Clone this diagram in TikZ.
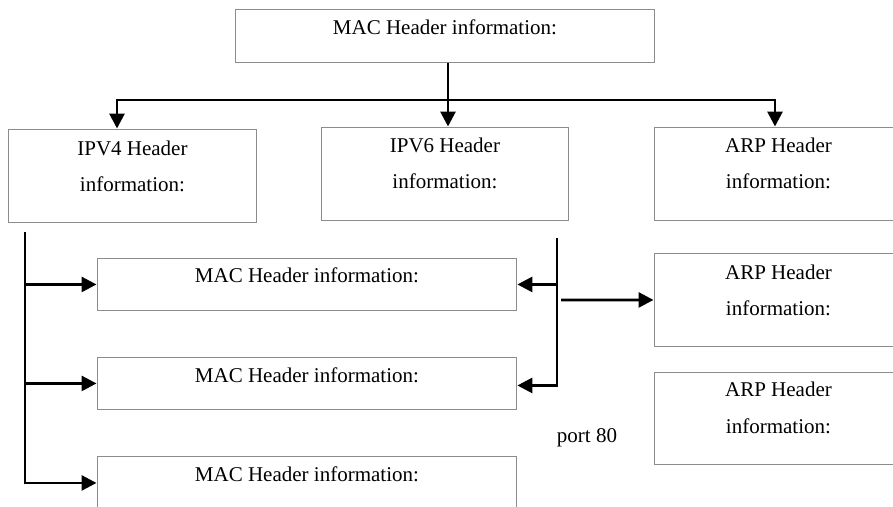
\documentclass[tikz,border=0pt]{standalone}
\usepackage{fontspec}
\setmainfont{Liberation Serif}
\usetikzlibrary{arrows.meta,calc}
\tikzset{
  hbox/.style={draw=black!45, line width=0.9pt, fill=none, inner sep=0pt, anchor=north west},
  txt/.style={inner sep=0pt, anchor=base, font=\fontsize{21}{25}\selectfont},
  conn/.style={line width=2.9pt, draw=black},
  arr/.style={conn, -{Triangle[length=15pt,width=15pt]}, shorten >=0.5pt},
}
\begin{document}
\begin{tikzpicture}[x=1pt,y=-1pt]
\useasboundingbox (0,0) rectangle (893,506);
\clip (0,0) rectangle (893,506);
% boxes
\node[hbox, minimum width=419pt, minimum height=53pt] (mac) at (235,9) {};
\node[hbox, minimum width=248pt, minimum height=93pt] (ipv4) at (8,129) {};
\node[hbox, minimum width=247pt, minimum height=93pt] (ipv6) at (321,127) {};
\node[hbox, minimum width=248pt, minimum height=93pt] (arp1) at (654,127) {};
\node[hbox, minimum width=419pt, minimum height=52pt] (m1) at (97,258) {};
\node[hbox, minimum width=419pt, minimum height=52pt] (m2) at (97,357) {};
\node[hbox, minimum width=419pt, minimum height=53pt] (m3) at (97,456) {};
\node[hbox, minimum width=248pt, minimum height=93pt] (arp2) at (654,253) {};
\node[hbox, minimum width=248pt, minimum height=92pt] (arp3) at (654,372) {};
% texts
\node[txt] (mact) at ([yshift=-25pt]mac.north) {MAC Header information:};
\node[txt] (ipv4a) at ([yshift=-26pt]ipv4.north) {IPV4 Header};
\node[txt] (ipv4b) at ([yshift=-62pt]ipv4.north) {information:};
\node[txt] (ipv6a) at ([yshift=-25pt]ipv6.north) {IPV6 Header};
\node[txt] (ipv6b) at ([yshift=-61pt]ipv6.north) {information:};
\node[txt] (arp1a) at ([yshift=-25pt]arp1.north) {ARP Header};
\node[txt] (arp1b) at ([yshift=-61pt]arp1.north) {information:};
\node[txt] (m1t) at ([yshift=-24pt]m1.north) {MAC Header information:};
\node[txt] (m2t) at ([yshift=-25pt]m2.north) {MAC Header information:};
\node[txt] (m3t) at ([yshift=-25pt]m3.north) {MAC Header information:};
\node[txt] (arp2a) at ([yshift=-26pt]arp2.north) {ARP Header};
\node[txt] (arp2b) at ([yshift=-62pt]arp2.north) {information:};
\node[txt] (arp3a) at ([yshift=-24pt]arp3.north) {ARP Header};
\node[txt] (arp3b) at ([yshift=-61pt]arp3.north) {information:};
\node[txt] (port) at (587,442) {port 80};
% connector coordinates
\coordinate (j) at (448,100);
\coordinate (x4) at (117,100);
\coordinate (xa) at (775,100);
\coordinate (l0) at (25,232);
\coordinate (r0) at (557,238);
\coordinate (r1) at (561,300);
% top tree
\draw[arr] (mac.south -| j) -- (ipv6.north -| j);
\draw[arr] (j) -| (ipv4.north -| x4);
\draw[arr] (j) -| (arp1.north -| xa);
% left trunk
\draw[arr] (l0) |- (m3.west);
\draw[arr] (l0 |- m1.west) -- (m1.west);
\draw[arr] (l0 |- m2.west) -- (m2.west);
% right trunk
\draw[arr] (r0) |- ([yshift=-2pt]m2.east);
\draw[arr] (r0 |- m1.east) -- (m1.east);
\draw[arr] (r1) -- (arp2.west);
\end{tikzpicture}
\end{document}
